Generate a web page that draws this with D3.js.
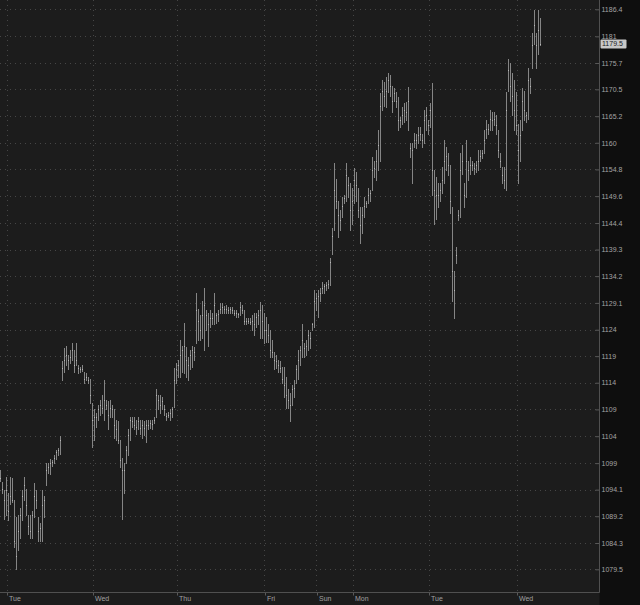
<!DOCTYPE html>
<html><head><meta charset="utf-8">
<script src="https://cdn.jsdelivr.net/npm/d3@7"></script>
<style>
html,body{margin:0;padding:0;background:#0e0e0e;}
svg{display:block;}
</style></head><body>
<svg id="chart" width="640" height="605"></svg>
<script>
const high = [
1097.75,1095.5,1094,1096.5,1093.5,1096.5,1096.25,1092.25,1089,1089.5,1090.75,1094,1096.5,1094.25,1089.5,1089.5,1090.25,1095.25,1094,1089,1088,1094,1093,1099,1099,1099.75,1099.5,1100.5,1101.5,1101.75,1104,
1118,1120.5,1121,1119.25,1120.25,1121.5,1120.25,1121.5,1117.25,1117,1117.25,1116,1115.75,1115,1114.75,1110.25,1109,1108.25,1109.75,1110.75,1111.75,1114.5,1110.75,1110.5,1110.75,1109.75,1109,1107,1106.75,1103.25,1100,1099,1102.25,1105.25,1107.5,1107.5,1107.5,1107,1107.5,1107,1107,1106.75,1107,1107,1107,1107,1107.5,1112.75,1111.75,1111.75,1111.25,1109.75,1108.25,1108.5,1109,1109.5,1116.75,1117.75,1118.25,1122,
1121,1125.25,1120.75,1118.75,1120.25,1121,1120.75,1131,1128,1126.75,1129.5,1132,1127.75,1127.25,1127.75,1127.25,1131,1127.25,1127.75,1129,1129,1128.5,1128.75,1128.25,1128.25,1128.25,1127.75,1127.75,1127.25,1129.25,1128.75,1127.75,1126.25,1126.25,1126.25,1126.75,1127.25,1127.25,1127.75,1129.25,1128.75,1127.25,1126.5,1125,1124,1122,1119.75,1119.25,1118.25,1118,1117,1117,1115,1112.75,1112,1113.5,1114.5,1117.25,1120.25,1121,1125,1121.5,1122,1124,1123.5,1125.25,1131.5,1131,1131.5,1132,1133,1132.75,1133,1133.5,
1137.75,1143.5,1156,1153,1148.75,1147,1149.5,1149.75,1156,1153.25,1152.25,1151.25,1155,1154.25,1151.25,1147.5,1147.5,1149.5,1148.75,1151.25,1150.75,1157.25,1156.5,1158.5,1162.5,1169.75,1172.25,1172,1173,1173.75,1173.25,1171.25,1170.75,1170,1169,1165,1167,1167.75,1168,1171,1160,1160,1162,1161.75,1163,1163,1161.75,1166.5,1167,1164.5,1167.75,1171.75,1154.75,1153.25,1152.25,1152.25,
1155.25,1160.5,1159.25,1158,1155.75,1147.5,1135.25,1139.75,1147,1158,1159.5,1152.25,1160.5,1156.5,1157.25,1156.5,1156,1156.5,1158.5,1158.5,1158.5,1162.5,1164.5,1163.75,1166.5,1166,1166,1165.5,1162.5,1158,1155.25,1155.25,1170,1176.5,1175.75,1173.75,1172.25,1170,1163.75,1164.5,1170.75,1170.25,1166,1174.75,1172.75,1181.75,1186.25,1181.75,1186.25,1184.75
];
const low = [
1095.75,1093.5,1088.75,1089.5,1088.5,1091.5,1091.75,1083.5,1079.5,1083,1085.25,1088.5,1092.25,1089.5,1086,1085.25,1085.25,1089,1090.75,1084.75,1084.75,1084.75,1089,1095,1097.25,1097,1098.5,1099,1099.75,1100.5,1100.75,
1114.5,1116,1117.25,1116.5,1117.75,1118.25,1116,1117.25,1115.75,1116,1116.25,1114,1114.5,1114,1110.25,1102,1103.25,1105.75,1107,1108,1108.25,1107,1109,1105.25,1107.5,1107.5,1103.75,1103.25,1102.75,1098.25,1088.75,1093.5,1099,1100.5,1103.25,1105.75,1105.25,1104.5,1105.25,1104.5,1103.75,1104.25,1103,1105.25,1105.5,1105.25,1106.5,1107.5,1109,1108.25,1109,1108,1107,1107.5,1107,1107.5,1109.5,1114,1115,1115,
1116,1115.75,1115,1114.5,1116.5,1117,1118.25,1121.5,1122,1122,1122.5,1120.25,1124,1121,1124.5,1125,1125,1125.25,1125.75,1127.25,1127.25,1127.25,1127.25,1127.25,1127.25,1127.25,1126.75,1126.5,1126.5,1126.75,1127.25,1125,1125,1125.25,1125,1124,1123,1124.5,1125,1122.5,1122.5,1121.5,1121.75,1121.75,1118.75,1118.75,1116.5,1116.75,1116,1116,1114,1111.25,1109.25,1109.25,1106.75,1109.75,1111.25,1114,1114.75,1117.25,1118.75,1118.75,1119.25,1120.25,1120.5,1124,1124.5,1127.75,1126.5,1129.5,1131,1131,1131.5,1132,
1132.5,1138.5,1143,1147.25,1141.75,1143,1145.5,1148.25,1148.75,1149.5,1143,1144.25,1148.25,1148.75,1145.5,1140.5,1142.5,1145.5,1147.5,1148.25,1148.75,1150.75,1153.25,1152.75,1154.75,1156.5,1166.5,1167.25,1167,1170,1169.25,1166,1168.25,1167,1162.5,1163,1163.75,1164,1164.5,1162.5,1157.25,1152.25,1159.25,1159,1160,1160.5,1159.25,1160,1162.5,1161.75,1163,1149.75,1144.25,1145.25,1147.5,1148.75,
1150.25,1152.25,1154.75,1153.75,1146.25,1129.5,1126.25,1136.75,1145,1145.5,1154,1147.5,1149.5,1152.75,1154,1154.75,1154,1154.25,1154.75,1156.5,1157,1158,1161,1161.75,1162.5,1162.5,1163.5,1161.75,1157.25,1155.25,1152.25,1151.25,1150.75,1170.25,1168.25,1165.5,1162.5,1161.75,1152.25,1156.5,1162.5,1164.5,1164,1164.75,1169.75,1174.75,1179.5,1174.75,1177.5,1179.25
];
const close = [
1096.25,1094.25,1092.25,1094,1090.25,1093,1092.25,1084.75,1082,1086.5,1089.5,1093,1095,1091.25,1087.5,1086.5,1089.5,1093,1092.25,1086.5,1087,1091.25,1092.25,1097.75,1098.25,1099,1099.25,1100,1101,1101.5,1103.25,
1116.75,1118.25,1119.25,1118.25,1118.75,1120.25,1117.25,1118.25,1116.75,1116.5,1116.5,1114.75,1115,1114.5,1111.75,1107,1107.5,1107.5,1109,1109.75,1109.25,1110.75,1109.75,1108,1109.25,1109,1106,1105.25,1103.25,1099.5,1097.75,1097.75,1101.5,1104.25,1107,1106.75,1106,1105.75,1106.75,1105.5,1106,1105.5,1106,1106,1106.5,1106.25,1107,1111.75,1110.75,1109.75,1110.5,1109,1107.75,1108,1108.25,1109,1114.5,1116.5,1117.25,1119.25,
1120.25,1121,1118.25,1117.25,1119.25,1120.25,1119.75,1127.75,1125.75,1124,1126.75,1128.75,1126.75,1125,1126.25,1126.25,1128.75,1126.75,1127,1128,1128.25,1128,1128,1127.75,1128,1127.75,1127.25,1127.25,1127,1128.25,1127.75,1125.75,1125.75,1125.75,1125.5,1125.75,1125,1126.5,1126.75,1127.75,1125.75,1124,1124,1123,1120.25,1119.75,1118.25,1118,1117.25,1116.75,1114.75,1113.5,1111.75,1110.75,1109.75,1112.75,1113,1116.5,1118.25,1120.25,1122,1120.5,1121,1123,1122.5,1125,1129.5,1130,1130.5,1131,1132,1132.25,1132.5,1132.75,
1137,1142,1150.75,1148.75,1146,1145,1147.75,1149.25,1153.75,1151.75,1147,1148.75,1152.75,1151.75,1147,1144,1146,1147.75,1148.25,1149.75,1150.25,1154.75,1155,1156.5,1159.5,1167.25,1170.25,1169.25,1170.25,1172.25,1171.25,1168.25,1169.75,1168.25,1164.5,1164.5,1165.5,1166.5,1166,1168.25,1159,1158.5,1160.5,1160.5,1161.5,1161.75,1160.5,1164.5,1165.5,1163.5,1166.5,1154.75,1150.75,1149.75,1149.75,1150.75,
1152.75,1156.5,1157.5,1155.75,1148.75,1135.25,1131.5,1138.25,1146,1154.75,1156.5,1149.75,1156.5,1154.75,1155.75,1155.75,1155,1155.75,1156.5,1157.5,1158,1160.5,1162.75,1162.75,1164.75,1164.5,1164.75,1163.5,1158.5,1156.5,1153.75,1152.75,1166.5,1174.25,1171.25,1169.25,1166.5,1163.5,1158.5,1161.5,1168.25,1166.5,1165.5,1172.25,1171.25,1179.25,1183.25,1179.25,1182.25,1179.5
];
const dayLabels = ["Tue","Wed","Thu","Fri","Sun","Mon","Tue","Wed"];
const dayIndex = [3,46,88,132,158,176,214,258];
const priceTicks = [1079.5,1084.3,1089.2,1094.1,1099,1104,1109,1114,1119,1124,1129.1,1134.2,1139.3,1144.4,1149.6,1154.8,1160,1165.2,1170.5,1175.7,1181,1186.4];
const lastPrice = 1179.5;

const W = 640, H = 605, plotR = 599.5, plotB = 592.5;
const svg = d3.select("#chart");
const font = "'Liberation Sans', Arial, sans-serif";

svg.append("rect").attr("width", W).attr("height", H).attr("fill", "#0e0e0e");
svg.append("rect").attr("x", 0).attr("y", 0).attr("width", plotR).attr("height", H).attr("fill", "#1c1c1c");

const x = d3.scaleLinear().domain([0, high.length - 1]).range([0.5, 540.5]);
const y = d3.scaleLog().domain([1079.5, 1186.4]).range([569.3, 9.3]);

// grid
const grid = svg.append("g");
grid.selectAll("line.h").data(priceTicks).join("line")
  .attr("x1", 0).attr("x2", plotR)
  .attr("y1", d => Math.round(y(d)) + 0.5).attr("y2", d => Math.round(y(d)) + 0.5)
  .attr("stroke", "#464646").attr("stroke-dasharray", "1,4");
grid.selectAll("line.v").data(dayIndex).join("line")
  .attr("x1", d => Math.round(x(d)) + 0.5).attr("x2", d => Math.round(x(d)) + 0.5)
  .attr("y1", 0).attr("y2", plotB)
  .attr("stroke", "#464646").attr("stroke-dasharray", "1,4");

// bars
const bars = svg.append("g");
bars.selectAll("line").data(high).join("line")
  .attr("x1", (d, i) => Math.floor(x(i)) + 0.5)
  .attr("x2", (d, i) => Math.floor(x(i)) + 0.5)
  .attr("y1", (d, i) => Math.round(y(high[i])))
  .attr("y2", (d, i) => Math.round(y(low[i])) + 1)
  .attr("stroke", "#858585").attr("stroke-width", 1);
bars.selectAll("rect").data(close).join("rect")
  .attr("x", (d, i) => Math.floor(x(i)))
  .attr("y", d => Math.round(y(d)))
  .attr("width", 1).attr("height", 1)
  .attr("fill", "#b8b8b8");

// y axis
const yAxis = svg.append("g").attr("transform", `translate(${plotR},0)`)
  .call(d3.axisRight(y).tickValues(priceTicks).tickFormat(d => String(d)).tickSizeInner(-4).tickSizeOuter(0).tickPadding(2));
yAxis.select(".domain").remove();
yAxis.selectAll(".tick line").attr("stroke", "#5a5a5a");
yAxis.selectAll(".tick text").attr("fill", "#a4a4a4").style("font-family", font).style("font-size", "7px");
svg.append("line").attr("x1", plotR).attr("x2", plotR).attr("y1", 0).attr("y2", plotB).attr("stroke", "#505050");

// x axis
const xAxis = svg.append("g").attr("transform", `translate(0,${plotB})`)
  .call(d3.axisBottom(x).tickValues(dayIndex).tickFormat((d, i) => dayLabels[i]).tickSizeInner(3).tickSizeOuter(0));
xAxis.select(".domain").remove();
xAxis.selectAll(".tick line").attr("stroke", "#5a5a5a").attr("transform", "translate(0.5,0)");
xAxis.selectAll(".tick text").attr("fill", "#a0a0a0").attr("text-anchor", "start")
  .attr("x", 2).attr("y", 4).attr("dy", "0.71em")
  .style("font-family", font).style("font-size", "7px");
svg.append("line").attr("x1", 0).attr("x2", plotR).attr("y1", plotB).attr("y2", plotB).attr("stroke", "#505050");

// last price marker
const ly = y(lastPrice);
svg.append("rect").attr("x", 600.5).attr("y", ly - 4.5).attr("width", 26).attr("height", 9)
  .attr("fill", "#c8c8c8").attr("rx", 1);
svg.append("text").attr("x", 602).attr("y", ly).attr("dy", "0.35em")
  .attr("fill", "#1a1a1a").style("font-family", font).style("font-size", "7px")
  .text(String(lastPrice));
</script>
</body></html>
